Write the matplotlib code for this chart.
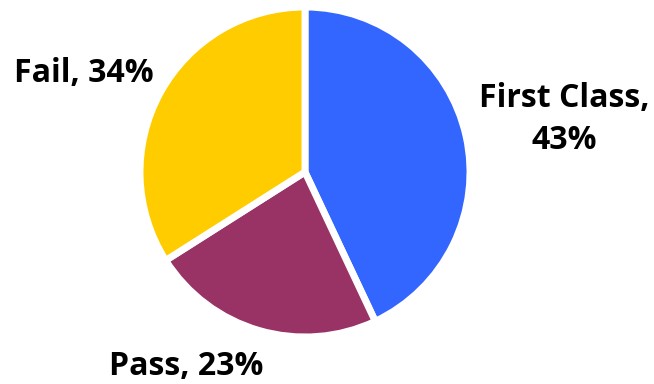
import matplotlib.pyplot as plt
import numpy as np

# Resultados por categoria
categorias = ['First Class', 'Pass', 'Fail']
valores = [43, 23, 34]
cores = ['#3366FF', '#993366', '#FFCC00']

# Posição dos rótulos (distância em raios, ângulo em graus)
dist_rotulo = [1.60, 1.38, 1.47]
ang_rotulo = [11.4, -121.5, 156.0]

fig = plt.figure(figsize=(6.54, 3.84), dpi=100)
ax = fig.add_axes([0, 0, 1, 1])

ax.pie(valores, colors=cores, startangle=90, counterclock=False,
       wedgeprops=dict(edgecolor='white', linewidth=5))

# pie() redefine os limites, então ajusta depois
r_px = 165.0
cx, cy = 305.0, 212.0
ax.set_xlim(-cx / r_px, (654 - cx) / r_px)
ax.set_ylim(-cy / r_px, (384 - cy) / r_px)
ax.set_aspect('equal')
ax.axis('off')

rotulos = ['%s,\n%d%%' % (categorias[0], valores[0]),
           '%s, %d%%' % (categorias[1], valores[1]),
           '%s, %d%%' % (categorias[2], valores[2])]
for txt, d, a in zip(rotulos, dist_rotulo, ang_rotulo):
    t = np.deg2rad(a)
    ax.text(d * np.cos(t), d * np.sin(t), txt, ha='center', va='center',
            fontsize=23, fontweight='bold', family='Open Sans',
            color='black', linespacing=1.35)

fig.savefig('out.png', dpi=100)
